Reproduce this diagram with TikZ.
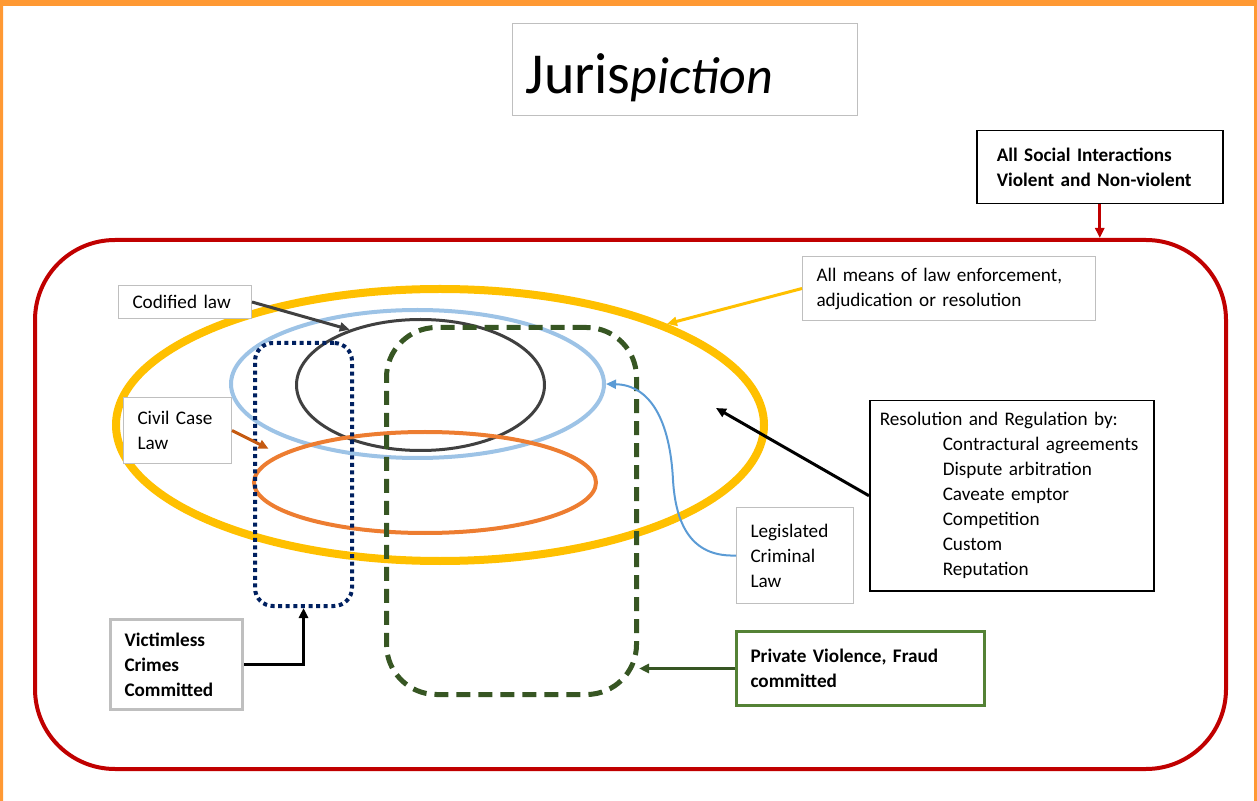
\documentclass[tikz,border=0pt]{standalone}
\usepackage{fontspec}
\setmainfont{Carlito}
\usetikzlibrary{arrows.meta, positioning, shapes.geometric}
\definecolor{edgeorange}{HTML}{FF9933}
\definecolor{redframe}{HTML}{C00000}
\definecolor{gold}{HTML}{FFC000}
\definecolor{skyblue}{HTML}{9DC3E6}
\definecolor{midblue}{HTML}{5B9BD5}
\definecolor{coal}{HTML}{404040}
\definecolor{tangerine}{HTML}{ED7D31}
\definecolor{rust}{HTML}{C55A11}
\definecolor{navy}{HTML}{002060}
\definecolor{forest}{HTML}{375623}
\definecolor{leaf}{HTML}{548235}
\definecolor{pale}{HTML}{BFBFBF}

\begin{document}
\begin{tikzpicture}[x=0.5pt, y=-0.5pt,
     font = \fontsize{9.6}{12.5}\selectfont,
  textbox/.style = {draw=pale, line width=0.5pt, fill=white, align=left,
                    anchor=north west, inner xsep=7pt, inner ysep=0pt},
  boldbox/.style = {textbox, font=\fontsize{9.6}{12.5}\selectfont\bfseries},
     ring/.style = {ellipse, draw, inner sep=0pt},
 shapebox/.style = {draw, anchor=center, inner sep=0pt},
     link/.style = {-{Triangle[length=5pt,width=4.5pt]}, line width=1.5pt}
                    ]
\useasboundingbox (0,0) rectangle (1257,801);
\fill[edgeorange] (0,0) rectangle (1257,6) (0,0) rectangle (3,801) (1254,0) rectangle (1257,801);

 % shapes
\node (societybox)   [shapebox, draw=redframe, line width=2pt, rounded corners=40pt,
                      minimum width=595.5pt, minimum height=264.5pt] at (630.5,504.5) {};
\node (meansring)    [ring, draw=gold, line width=4pt,
                      minimum width=324pt, minimum height=136pt] at (440,425) {};
\node (criminalring) [ring, draw=skyblue, line width=2pt,
                      minimum width=186.5pt, minimum height=74pt] at (417.5,384) {};
\node (codifiedring) [ring, draw=coal, line width=1.5pt,
                      minimum width=124pt, minimum height=65.5pt] at (420.5,385) {};
\node (civilring)    [ring, draw=tangerine, line width=2pt,
                      minimum width=171pt, minimum height=50.5pt] at (425,482.5) {};
\node (dottedbox)    [shapebox, draw=navy, line width=2pt, rounded corners=9pt,
                      dash pattern=on 2pt off 1.8pt,
                      minimum width=48.5pt, minimum height=131.5pt] at (303.5,474.5) {};
\node (dashedbox)    [shapebox, draw=forest, line width=2.5pt, rounded corners=25pt,
                      dash pattern=on 7pt off 4pt,
                      minimum width=125pt, minimum height=183.5pt] at (511.5,511) {};

 % text boxes
\node (title)      [textbox, inner xsep=6.5pt, text width=159.5pt,
                    text height=35pt, text depth=11pt]
                   at (512,23) {\fontsize{29}{32}\selectfont Juris{\fontsize{26}{30}\selectfont\itshape piction}};
\node (social)     [boldbox, draw=black, line width=0.75pt, inner xsep=10pt,
                    text width=103pt, minimum height=36.5pt]
                   at (976,130) {All Social Interactions\\Violent and Non-violent};
\node (codified)   [textbox, text width=52.5pt, minimum height=16.5pt]
                   at (118,285) {Codified law};
\node (civil)      [textbox, text width=40pt, minimum height=33pt]
                   at (123,397) {Civil Case\\Law};
\node (means)      [textbox, text width=132.5pt, minimum height=32pt]
                   at (802,256) {All means of law enforcement,\\adjudication or resolution};
\node (resolution) [textbox, draw=black, line width=0.75pt, inner xsep=5pt,
                    text width=132pt, minimum height=95pt]
                   at (869,400) {Resolution and Regulation by:\\
                   \hspace*{31.5pt}Contractural agreements\\
                   \hspace*{31.5pt}Dispute arbitration\\
                   \hspace*{31.5pt}Caveate emptor\\
                   \hspace*{31.5pt}Competition\\
                   \hspace*{31.5pt}Custom\\
                   \hspace*{31.5pt}Reputation};
\node (legislated) [textbox, text width=44.5pt, minimum height=48pt]
                   at (736,507) {Legislated\\Criminal\\Law};
\node (victimless) [boldbox, line width=1.5pt, text width=52pt, minimum height=45pt]
                   at (109,618) {Victimless\\Crimes\\Committed};
\node (private)    [boldbox, draw=leaf, line width=1.5pt, text width=110pt, minimum height=37pt]
                   at (735,630) {Private Violence, Fraud\\committed};
\coordinate (inside) at (716,408);

 % connectors
\draw[link, redframe] (social.south) -- (social.south |- societybox.north);
\draw[link, coal] (codified.east) -- (codifiedring.142);
\draw[link, rust, shorten >=6pt] (civil.east) -- (civilring.169);
\draw[link, gold] (means.west) -- (meansring.24);
\draw[link, black] (resolution.west) -- (inside);
\draw[link, midblue, line width=1pt] (legislated.west) .. controls (695,557) and (676,530) .. (673,480)
      .. controls (670,420) and (650,385) .. (criminalring.east);
\draw[link, black] (victimless.east) -| (dottedbox.south);
\draw[link, forest] (private.west) -- (private.west -| dashedbox.east);
\end{tikzpicture}
\end{document}
